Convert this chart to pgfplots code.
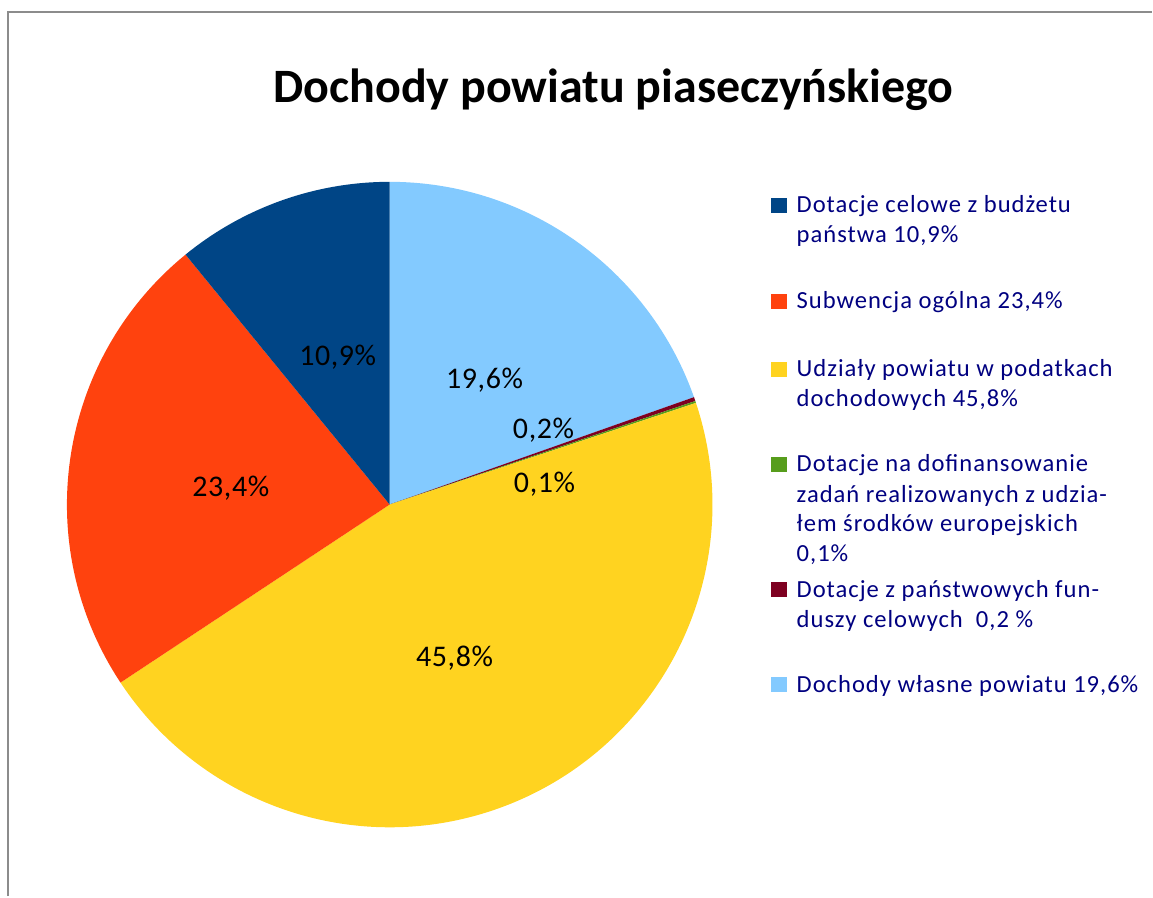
\documentclass[border=0pt]{standalone}
\usepackage{pgfplots}
\pgfplotsset{compat=1.18}
\usepackage{fontspec}
\setmainfont{Carlito}

\definecolor{cBlue}{HTML}{004586}
\definecolor{cOrange}{HTML}{FF420E}
\definecolor{cYellow}{HTML}{FFD320}
\definecolor{cGreen}{HTML}{579D1C}
\definecolor{cRed}{HTML}{7E0021}
\definecolor{cLight}{HTML}{83CAFF}
\definecolor{legtext}{HTML}{000080}
\definecolor{frame}{HTML}{8C8C8C}

% slice: colour, start (%), share (%) -- clockwise from 12 o'clock
\newcommand\slice[3]{%
  \fill[#1] (axis cs:390,392) -- ++({90-3.6*(#2)}:161.5pt)
    arc[start angle={90-3.6*(#2)}, end angle={90-3.6*(#2+#3)}, radius=161.5pt] -- cycle;}
% legend square at baseline y
\newcommand\legsq[2]{%
  \fill[#1] (axis cs:772,#2) rectangle (axis cs:788,#2+15);}

\begin{document}
\begin{tikzpicture}
\begin{axis}[
    scale only axis,
    width=576.5pt, height=448.5pt,
    xmin=0, xmax=1153, ymin=0, ymax=897,
    hide axis, clip=false,
]
\path (axis cs:0,0) rectangle (axis cs:1153,897);
\draw[frame, line width=1pt] (axis cs:8,0) -- (axis cs:8,885) -- (axis cs:1153,885);

\node[anchor=base, font=\fontsize{24}{29}\selectfont\bfseries] at (axis cs:614,794) {Dochody powiatu piaseczyńskiego};

\slice{cLight}{0}{19.6}
\slice{cRed}{19.6}{0.2}
\slice{cGreen}{19.8}{0.1}
\slice{cYellow}{19.9}{45.8}
\slice{cOrange}{65.7}{23.4}
\slice{cBlue}{89.1}{10.9}

\begin{scope}[every node/.style={anchor=base, font=\fontsize{15}{18}\selectfont\addfontfeature{LetterSpace=2}, inner sep=0pt}]
\node at (axis cs:338,531) {10,9\%};
\node at (axis cs:485,508) {19,6\%};
\node at (axis cs:544,458) {0,2\%};
\node at (axis cs:545,404) {0,1\%};
\node at (axis cs:231,400) {23,4\%};
\node at (axis cs:455,230) {45,8\%};
\end{scope}

\legsq{cBlue}{684}
\legsq{cOrange}{588}
\legsq{cYellow}{520}
\legsq{cGreen}{425}
\legsq{cRed}{299}
\legsq{cLight}{204}
\begin{scope}[every node/.style={anchor=base west, font=\fontsize{12.3}{14}\selectfont\addfontfeature{LetterSpace=4}, text=legtext, inner sep=0pt}]
\node at (axis cs:797,684) {Dotacje celowe z budżetu};
\node at (axis cs:797,654) {państwa 10,9\%};
\node at (axis cs:797,588) {Subwencja ogólna 23,4\%};
\node at (axis cs:797,520) {Udziały powiatu w podatkach};
\node at (axis cs:797,490) {dochodowych 45,8\%};
\node at (axis cs:797,425) {Dotacje na dofinansowanie};
\node at (axis cs:797,394) {zadań realizowanych z udzia-};
\node at (axis cs:797,365) {łem środków europejskich};
\node at (axis cs:797,335) {0,1\%};
\node at (axis cs:797,299) {Dotacje z państwowych fun-};
\node at (axis cs:797,269) {duszy celowych\ \ 0,2 \%};
\node at (axis cs:797,204) {Dochody własne powiatu 19,6\%};
\end{scope}
\end{axis}
\end{tikzpicture}
\end{document}
